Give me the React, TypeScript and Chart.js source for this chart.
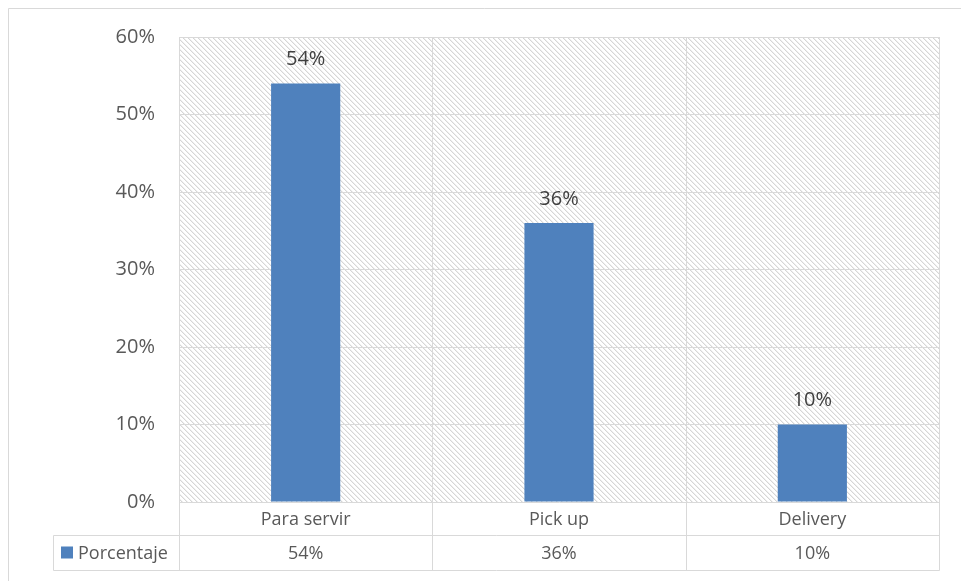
import React, { useEffect, useRef } from "react";
import { Chart, registerables } from "chart.js";

Chart.register(...registerables);

const categories = ["Para servir", "Pick up", "Delivery"];
const seriesName = "Porcentaje";
const values = [54, 36, 10];
const yTicks = [0, 10, 20, 30, 40, 50, 60];

const FONT = "'Open Sans', sans-serif";
const GRID = "#d9d9d9";
const BAR = "#4f81bd";

function makePattern(ctx: CanvasRenderingContext2D) {
  const c = document.createElement("canvas");
  const n = 5;
  c.width = n;
  c.height = n;
  const p = c.getContext("2d")!;
  p.fillStyle = "#ffffff";
  p.fillRect(0, 0, n, n);
  for (let i = 0; i < n; i++) {
    p.fillStyle = "#d6d6d6";
    p.fillRect(i, i, 1, 1);
    p.fillStyle = "#efefef";
    p.fillRect((i + 1) % n, i, 1, 1);
  }
  return ctx.createPattern(c, "repeat");
}

const tablePlugin = {
  id: "tablePlugin",
  beforeDraw(chart: any) {
    const { ctx, chartArea } = chart;
    ctx.save();
    ctx.fillStyle = "#ffffff";
    ctx.fillRect(0, 0, chart.width, chart.height);
    const pat = makePattern(ctx);
    if (pat) {
      ctx.fillStyle = pat;
      ctx.fillRect(chartArea.left, chartArea.top, chartArea.right - chartArea.left, chartArea.bottom - chartArea.top);
    }
    ctx.restore();
  },
  afterDraw(chart: any) {
    const { ctx, chartArea } = chart;
    const xs = chart.scales.x;
    const n = categories.length;
    const catW = (chartArea.right - chartArea.left) / n;
    const rowTop = chartArea.bottom;
    const row1 = rowTop + 33;
    const row2 = row1 + 35;
    const tableLeft = 53.5;
    ctx.save();
    ctx.strokeStyle = GRID;
    ctx.lineWidth = 1;
    const line = (x1: number, y1: number, x2: number, y2: number) => {
      ctx.beginPath();
      ctx.moveTo(x1, y1);
      ctx.lineTo(x2, y2);
      ctx.stroke();
    };
    // outer chart border
    line(8.5, 8.5, 961, 8.5);
    line(8.5, 8.5, 8.5, 581);
    // vertical category boundaries (plot + table)
    for (let i = 0; i <= n; i++) {
      const x = Math.round(chartArea.left + catW * i) + 0.5;
      const top = i === 0 ? rowTop : chartArea.top;
      line(x, top, x, row2 + 0.5);
    }
    line(chartArea.left, Math.round(chartArea.top) + 0.5, chartArea.right, Math.round(chartArea.top) + 0.5);
    line(tableLeft, row1 + 0.5, chartArea.right, row1 + 0.5);
    line(tableLeft, row2 + 0.5, chartArea.right + 0.5, row2 + 0.5);
    line(tableLeft, row1 + 0.5, tableLeft, row2 + 0.5);
    // texts
    ctx.font = `18px ${FONT}`;
    ctx.fillStyle = "#595959";
    ctx.textAlign = "center";
    ctx.textBaseline = "middle";
    categories.forEach((c, i) => {
      const x = xs.getPixelForValue(i);
      ctx.fillText(c, x, (rowTop + row1) / 2 + 1);
      ctx.fillText(values[i] + "%", x, (row1 + row2) / 2 + 1);
    });
    // legend key
    ctx.fillStyle = BAR;
    ctx.fillRect(61, (row1 + row2) / 2 - 6, 12, 12);
    ctx.fillStyle = "#595959";
    ctx.textAlign = "left";
    ctx.fillText(seriesName, 78, (row1 + row2) / 2 + 1);
    ctx.restore();
  },
  afterDatasetsDraw(chart: any) {
    const { ctx } = chart;
    const meta = chart.getDatasetMeta(0);
    ctx.save();
    ctx.font = `20px ${FONT}`;
    ctx.fillStyle = "#404040";
    ctx.textAlign = "center";
    ctx.textBaseline = "middle";
    meta.data.forEach((bar: any, i: number) => {
      ctx.fillText(values[i] + "%", bar.x, bar.y - 24);
    });
    ctx.restore();
  },
};

export default function App() {
  const ref = useRef<HTMLCanvasElement>(null);
  useEffect(() => {
    if (!ref.current) return;
    const chart = new Chart(ref.current, {
      type: "bar",
      data: {
        labels: categories,
        datasets: [
          {
            label: seriesName,
            data: values,
            backgroundColor: BAR,
            borderWidth: 0,
            categoryPercentage: 1,
            barPercentage: 0.273,
          },
        ],
      },
      options: {
        responsive: false,
        animation: false,
        devicePixelRatio: 1,
        layout: { padding: { left: 0, top: 37, right: 22, bottom: 79 } },
        plugins: { legend: { display: false }, tooltip: { enabled: false } },
        scales: {
          x: { display: false },
          y: {
            min: 0,
            max: 60,
            afterFit: (s: any) => {
              s.width = 179;
            },
            afterBuildTicks: (s: any) => {
              s.ticks = yTicks.map((v) => ({ value: v }));
            },
            ticks: {
              stepSize: 10,
              padding: 24,
              color: "#595959",
              font: { family: FONT, size: 20 },
              callback: (v: any) => v + "%",
            },
            grid: { color: GRID, drawTicks: false, lineWidth: 1 },
            border: { display: true, color: GRID },
          },
        },
      },
      plugins: [tablePlugin],
    });
    return () => chart.destroy();
  }, []);
  return (
    <div style={{ position: "fixed", left: 0, top: 0, width: 961, height: 581 }}>
      <canvas ref={ref} width={961} height={581} style={{ width: 961, height: 581 }} />
    </div>
  );
}
